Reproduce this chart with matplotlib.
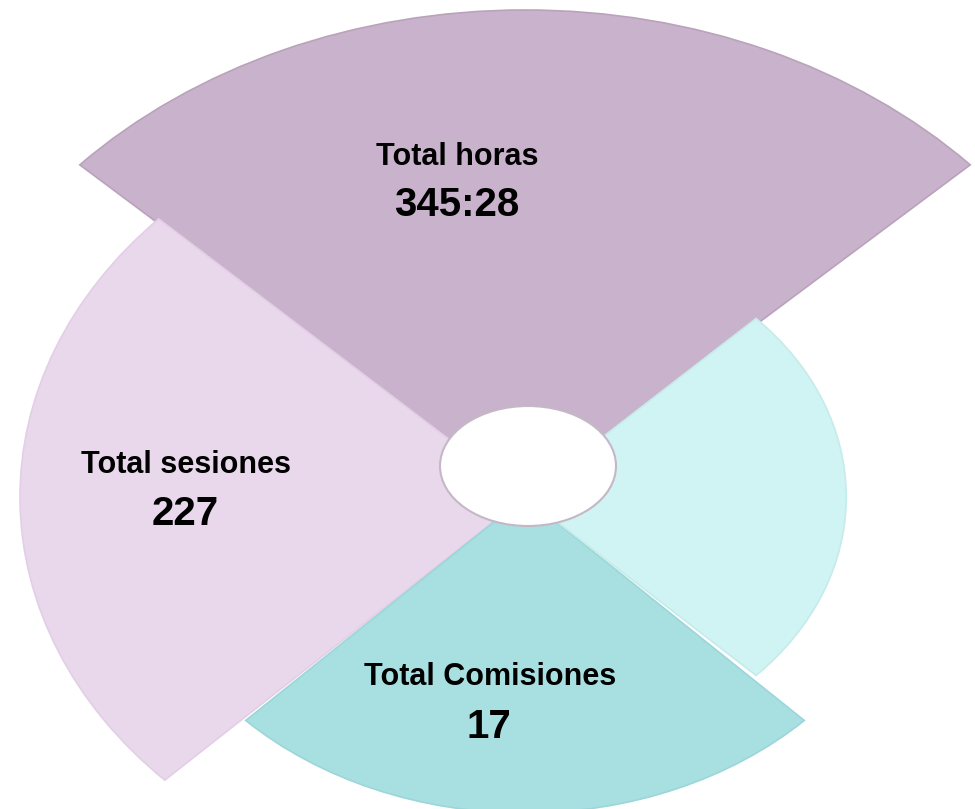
import numpy as np
import matplotlib
matplotlib.use('Agg')
import matplotlib.pyplot as plt
from matplotlib.patches import Ellipse

# wedge data (top, left, bottom, right)
labels = ["Total horas", "Total sesiones", "Total Comisiones", ""]
values = ["345:28", "227", "17", ""]
radii = [487, 404, 316, 257]
centers_deg = [90, 180.5, 270, 0]
widths_deg = [94, 88, 90, 88]
colors = ["#C9B2CB", "#E9D7EC", "#A8E0E2", "#D0F3F3"]
edges = ["#B9A3BB", "#E2CFE6", "#9CD6D8", "#C6EBEB"]

W, H = 975, 809
fig = plt.figure(figsize=(W / 100, H / 100), dpi=100)

# polar centre in pixels and horizontal stretch of the rose
cx, cy, R, sx = 525, 497, 500, 1.25
rect = [(cx - R * sx) / W, (H - cy - R) / H, 2 * R * sx / W, 2 * R / H]
ax = fig.add_axes(rect, projection='polar')
ax.set_aspect('auto')
ax.bar(np.deg2rad(centers_deg), radii, width=np.deg2rad(widths_deg),
       color=colors, edgecolor=edges, linewidth=1.2, bottom=0)
ax.set_ylim(0, R)
ax.set_axis_off()

# overlay in pixel coordinates for the hole and the labels
ov = fig.add_axes([0, 0, 1, 1])
ov.set_xlim(0, W)
ov.set_ylim(H, 0)
ov.set_axis_off()
ov.add_patch(Ellipse((528, 466), 176, 120, facecolor='white',
                     edgecolor='#C4B8C6', linewidth=1.5))

font = ['Liberation Sans', 'DejaVu Sans']
label_pos = [(457, 157), (186, 465), (490, 677)]
value_pos = [(457, 205), (185, 514), (489, 727)]
for i, (lx, ly) in enumerate(label_pos):
    ov.text(lx, ly, labels[i], ha='center', va='center', fontsize=22,
            fontweight='bold', family=font, color='black')
    vx, vy = value_pos[i]
    ov.text(vx, vy, values[i], ha='center', va='center', fontsize=29,
            fontweight='bold', family=font, color='black')

fig.savefig('out.png', dpi=100, facecolor='white')
